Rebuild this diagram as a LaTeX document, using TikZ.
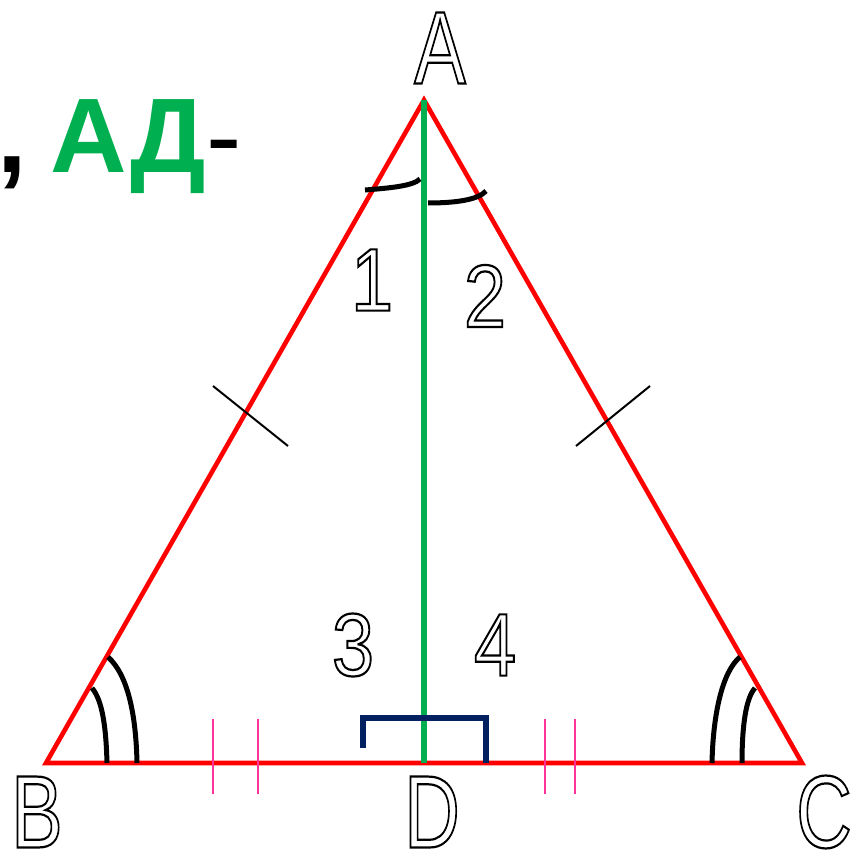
\documentclass[tikz,border=0pt]{standalone}
\usepackage{fontspec}
\setmainfont{Liberation Sans}
\definecolor{tri}{HTML}{FF0000}
\definecolor{med}{HTML}{00B050}
\definecolor{navy}{HTML}{002060}
\definecolor{pinkt}{HTML}{FF3399}
\newcommand\hollowtxt[1]{\special{pdf:literal direct 1 Tr 2.2 w}#1\special{pdf:literal direct 0 Tr}}
\tikzset{
  side/.style={draw=tri, line width=4.6pt},
  median/.style={draw=med, line width=6.5pt},
  angmark/.style={draw=black, line width=5pt},
  tickmark/.style={draw=black, line width=2pt},
  basetick/.style={draw=pinkt, line width=2pt},
  rightmark/.style={draw=navy, line width=5.5pt},
  vlabel/.style={inner sep=0pt, font=\fontsize{103}{103}\selectfont, xscale=0.75},
  nlabel/.style={inner sep=0pt, font=\fontsize{89}{89}\selectfont, xscale=0.85},
}
\begin{document}
\begin{tikzpicture}[x=1pt,y=-1pt]
\useasboundingbox (0,0) rectangle (850,853);
\coordinate (A) at (424,100);
\coordinate (B) at (46,763);
\coordinate (C) at (802,763);
\coordinate (D) at (424,763);
% triangle
\draw[side, line join=miter] (A) -- (B) -- (C) -- cycle;
% median
\draw[median] (A) -- (D);
% equal side ticks
\draw[tickmark] (213,386) -- (288,446);
\draw[tickmark] (576,446) -- (650,386);
% base ticks
\draw[basetick] (213,719) -- (213,794);
\draw[basetick] (258,719) -- (258,794);
\draw[basetick] (545,719) -- (545,794);
\draw[basetick] (575,719) -- (575,794);
% right angle mark
\draw[rightmark] (363,748) -- (363,718) -- (486,718) -- (486,763);
% angle arcs at B
\draw[angmark] (137,763) .. controls (136,715) and (128,675) .. (108,657);
\draw[angmark] (107,763) .. controls (106,725) and (102,700) .. (92,688);
% angle arcs at C
\draw[angmark] (712,763) .. controls (713,715) and (722,672) .. (740,657);
\draw[angmark] (742,763) .. controls (742,725) and (746,698) .. (755,688);
% angle arcs at A
\draw[angmark] (365,190) .. controls (390,188) and (413,186) .. (420,179);
\draw[angmark] (428,203) .. controls (455,203) and (478,200) .. (486,191);
% labels
\node[vlabel] (lA) at (440,48) {\hollowtxt{A}};
\node[vlabel] (lB) at (37,812) {\hollowtxt{B}};
\node[vlabel] (lD) at (432,812) {\hollowtxt{D}};
\node[vlabel] (lC) at (824,812) {\hollowtxt{C}};
\node[nlabel] (n1) at (372,280) {\hollowtxt{1}};
\node[nlabel] (n2) at (485,296) {\hollowtxt{2}};
\node[nlabel] (n3) at (353,645) {\hollowtxt{3}};
\node[nlabel] (n4) at (495,645) {\hollowtxt{4}};
% heading text
\node[anchor=base west, inner sep=0pt, font=\fontsize{106}{106}\selectfont] (head) at (-3,173) {\textbf{,\hspace{0.225em}{\color{med}АД}}-};
\end{tikzpicture}
\end{document}
